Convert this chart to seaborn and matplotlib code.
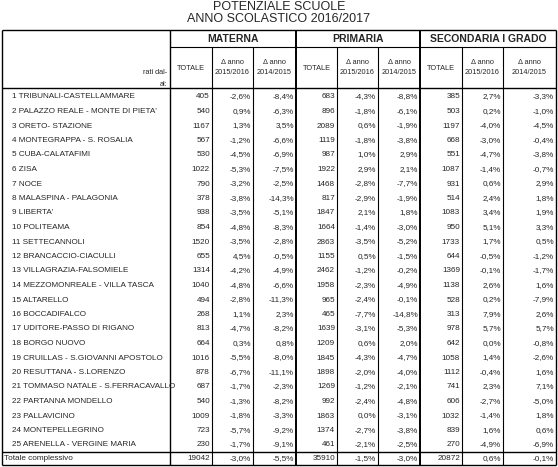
import matplotlib
matplotlib.use("Agg")
import matplotlib.pyplot as plt
import seaborn as sns

sns.set_style("white")
plt.rcParams['font.family'] = ['Liberation Sans Narrow', 'Liberation Sans', 'DejaVu Sans']

title = ["POTENZIALE SCUOLE", "ANNO SCOLASTICO 2016/2017"]
groups = ["MATERNA", "PRIMARIA", "SECONDARIA I GRADO"]
subheads = ["TOTALE", "Δ anno\n2015/2016", "Δ anno\n2014/2015"]
names = ["1 TRIBUNALI-CASTELLAMMARE", "2 PALAZZO REALE - MONTE DI PIETA'", "3 ORETO- STAZIONE",
         "4 MONTEGRAPPA - S. ROSALIA", "5 CUBA-CALATAFIMI", "6 ZISA", "7 NOCE",
         "8 MALASPINA - PALAGONIA", "9 LIBERTA'", "10 POLITEAMA", "11 SETTECANNOLI",
         "12 BRANCACCIO-CIACULLI", "13 VILLAGRAZIA-FALSOMIELE", "14 MEZZOMONREALE - VILLA TASCA",
         "15 ALTARELLO", "16 BOCCADIFALCO", "17 UDITORE-PASSO DI RIGANO", "18 BORGO NUOVO",
         "19 CRUILLAS - S.GIOVANNI APOSTOLO", "20 RESUTTANA - S.LORENZO",
         "21 TOMMASO NATALE - S.FERRACAVALLO", "22 PARTANNA MONDELLO", "23 PALLAVICINO",
         "24 MONTEPELLEGRINO", "25 ARENELLA - VERGINE MARIA"]
mat_tot = [405, 540, 1167, 567, 530, 1022, 790, 378, 938, 854, 1520, 655, 1314, 1040, 494, 268, 813, 664, 1016, 878, 687, 540, 1009, 723, 230]
mat_d1 = [-2.6, 0.9, 1.3, -1.2, -4.5, -5.3, -3.2, -3.8, -3.5, -4.8, -3.5, 4.5, -4.2, -4.8, -2.8, 1.1, -4.7, 0.3, -5.5, -6.7, -1.7, -1.3, -1.8, -5.7, -1.7]
mat_d2 = [-8.4, -6.3, 3.5, -6.6, -6.9, -7.5, -2.5, -14.3, -5.1, -8.3, -2.8, -0.5, -4.9, -6.6, -11.3, 2.3, -8.2, 0.8, -8.0, -11.1, -2.3, -8.2, -3.3, -9.2, -9.1]
pri_tot = [683, 896, 2089, 1119, 987, 1922, 1468, 817, 1847, 1664, 2863, 1155, 2462, 1958, 965, 465, 1639, 1209, 1845, 1898, 1269, 992, 1863, 1374, 461]
pri_d1 = [-4.3, -1.8, 0.6, -1.8, 1.0, 2.9, -2.8, -2.9, 2.1, -1.4, -3.5, 0.5, -1.2, -2.3, -2.4, -7.7, -3.1, 0.6, -4.3, -2.0, -1.2, -2.4, 0.0, -2.7, -2.1]
pri_d2 = [-8.8, -6.1, -1.9, -3.8, 2.9, 2.1, -7.7, -1.9, 1.8, -3.0, -5.2, -1.5, -0.2, -4.9, -0.1, -14.8, -5.3, 2.0, -4.7, -4.0, -2.1, -4.8, -3.1, -3.8, -2.5]
sec_tot = [385, 503, 1197, 668, 551, 1087, 931, 514, 1083, 950, 1733, 644, 1369, 1138, 528, 313, 978, 642, 1058, 1112, 741, 606, 1032, 839, 270]
sec_d1 = [2.7, 0.2, -4.0, -3.0, -4.7, -1.4, 0.6, 2.4, 3.4, 5.1, 1.7, -0.5, -0.1, 2.6, 0.2, 7.9, 5.7, 0.0, 1.4, -0.4, 2.3, -2.7, -1.4, 1.6, -4.9]
sec_d2 = [-3.3, -1.0, -4.5, -0.4, -3.8, -0.7, 2.9, 1.8, 1.9, 3.3, 0.5, -1.2, -1.7, 1.6, -7.9, 2.6, 5.7, -0.8, -2.6, 1.6, 7.1, -5.0, 1.8, 0.6, -6.9]
total_label = "Totale complessivo"
total_vals = [19042, -3.0, -5.5, 35910, -1.5, -3.0, 20872, 0.6, -0.1]

W, H = 558, 467
fig = plt.figure(figsize=(W / 100, H / 100), dpi=100)
ax = fig.add_axes([0, 0, 1, 1])
ax.set_xlim(0, W); ax.set_ylim(H, 0); ax.axis('off')
fs = 5.9

xs = [2, 170, 212, 253, 296, 337, 378, 420, 462, 503, 556]
top, gy, hy, tot_top, bottom = 30, 47, 88, 452, 465
row_y0, row_dy = 97, 14.5

ax.text(W / 2, 7, title[0], ha='center', va='center', fontsize=9)
ax.text(W / 2, 19, title[1], ha='center', va='center', fontsize=9)

def hl(y, x0, x1, lw=0.8):
    ax.plot([x0, x1], [y, y], color='black', lw=lw, solid_capstyle='butt')
def vl(x, y0, y1, lw=0.8):
    ax.plot([x, x], [y0, y1], color='black', lw=lw, solid_capstyle='butt')

hl(top, xs[0], xs[-1], 1.0)
hl(gy, xs[1], xs[-1])
hl(hy, xs[0], xs[-1], 1.0)
hl(tot_top, xs[0], xs[-1], 1.0)
hl(bottom, xs[0], xs[-1], 1.0)
for i, x in enumerate(xs):
    if i in (0, 1, 4, 7, 10):
        vl(x, top, bottom, 1.4 if i in (4, 7) else 1.0)
    else:
        vl(x, gy, bottom, 0.8)

for g, name in enumerate(groups):
    ax.text((xs[1 + 3 * g] + xs[4 + 3 * g]) / 2, (top + gy) / 2, name,
            ha='center', va='center', fontsize=7.5, fontweight='bold')
    for k, sh in enumerate(subheads):
        c = 1 + 3 * g + k
        ax.text((xs[c] + xs[c + 1]) / 2, 68, sh, ha='center', va='center',
                fontsize=5.3, linespacing=1.6)
ax.text(167, 72, "rati dal-", ha='right', va='center', fontsize=5.3)
ax.text(167, 84, "al:", ha='right', va='center', fontsize=5.3)

def fmt(v, k):
    if k % 3 == 0:
        return str(v)
    return f"{v:.1f}%".replace('.', ',')

cols = [mat_tot, mat_d1, mat_d2, pri_tot, pri_d1, pri_d2, sec_tot, sec_d1, sec_d2]
for r, nm in enumerate(names):
    y = row_y0 + r * row_dy
    ax.text(12, y, nm, ha='left', va='center', fontsize=fs)
    for k, col in enumerate(cols):
        ax.text(xs[k + 2] - 2, y, fmt(col[r], k), ha='right', va='center', fontsize=fs)

yt = (tot_top + bottom) / 2
ax.text(4, yt, total_label, ha='left', va='center', fontsize=fs)
for k, v in enumerate(total_vals):
    ax.text(xs[k + 2] - 2, yt, fmt(v, k), ha='right', va='center', fontsize=fs)

fig.savefig("out.png", dpi=100)
